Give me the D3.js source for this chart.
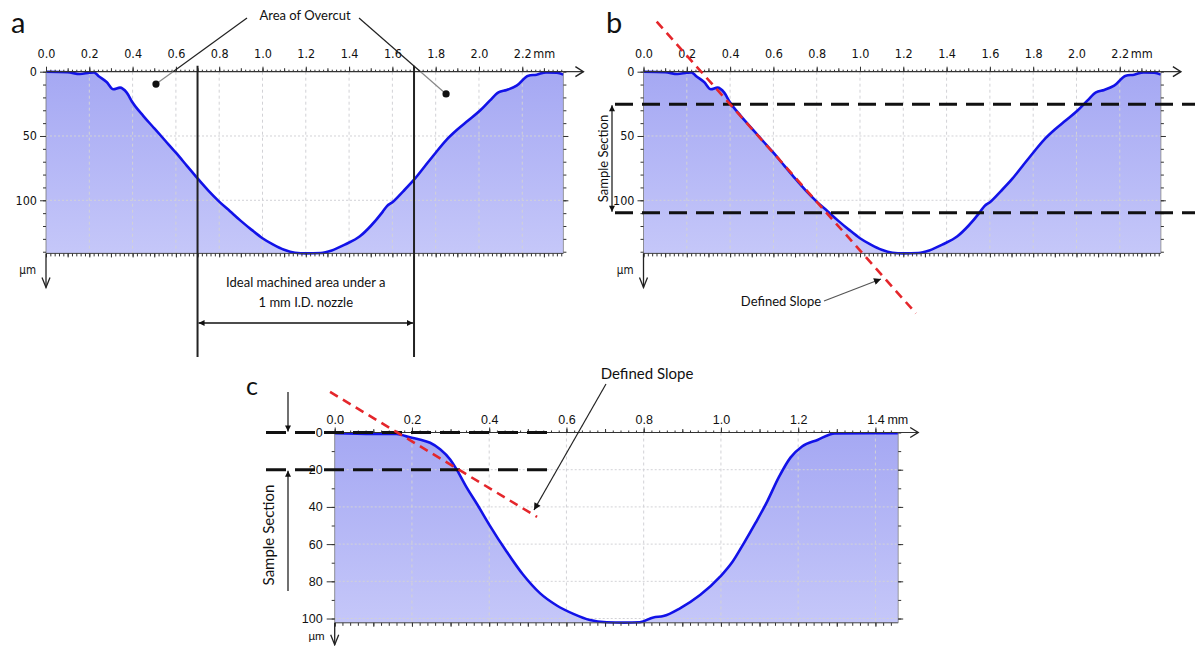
<!DOCTYPE html>
<html><head><meta charset="utf-8">
<script src="https://cdn.jsdelivr.net/npm/d3@7"></script>
<style>
html,body{margin:0;padding:0;background:#fff;}
svg{display:block;}
</style></head><body>
<svg id="chart" width="1195" height="646"></svg>
<script>
// ---------------- DATA ----------------
// Profile used in panels a and b (position in mm, depth in µm)
const profileAB_mm = [0, 0.10, 0.157, 0.20, 0.222, 0.242, 0.28, 0.311, 0.342, 0.373, 0.40, 0.45, 0.50, 0.55, 0.60, 0.65, 0.70, 0.75, 0.80, 0.85, 0.90, 0.95, 1.00, 1.05, 1.10, 1.15, 1.20, 1.27, 1.32, 1.38, 1.45, 1.50, 1.555, 1.575, 1.60, 1.65, 1.705, 1.75, 1.80, 1.85, 1.90, 1.95, 2.005, 2.05, 2.09, 2.128, 2.174, 2.228, 2.266, 2.31, 2.36, 2.39];
const profileAB_um = [0, 0.4, 1.8, 0.8, 0.5, 3.3, 8, 13.7, 12.4, 16.3, 24, 34.5, 44, 53.5, 63, 73, 83, 92.5, 101, 108.5, 116, 123, 129.5, 134.5, 138.5, 140.8, 141.3, 141, 139, 134.5, 128, 120, 109, 104.5, 101.5, 93, 83, 73.5, 63, 53, 45, 38, 30.2, 22.5, 16, 14.2, 10.9, 3.1, 2.3, 0.5, 0.8, 2.3];
// Profile used in panel c
const profileC_mm = [0, 0.10, 0.16, 0.195, 0.225, 0.247, 0.273, 0.299, 0.316, 0.34, 0.37, 0.40, 0.445, 0.488, 0.532, 0.575, 0.618, 0.661, 0.704, 0.75, 0.79, 0.825, 0.851, 0.894, 0.946, 0.998, 1.03, 1.058, 1.09, 1.12, 1.15, 1.18, 1.21, 1.25, 1.295, 1.459];
const profileC_um = [0.4, 0.8, 0.8, 2.6, 4, 5.5, 9, 14.5, 20, 29, 39, 49.5, 64, 76.5, 86.5, 93, 97.5, 100.8, 102, 102.2, 102, 99.4, 98.7, 94.5, 87.4, 77.5, 69.5, 60, 48.5, 37, 24, 13.5, 7.5, 4, 0.5, 0.4];

// Tick labels
const xTicksAB = [0, 0.2, 0.4, 0.6, 0.8, 1.0, 1.2, 1.4, 1.6, 1.8, 2.0, 2.2];
const xTickLabelsAB = ["0.0","0.2","0.4","0.6","0.8","1.0","1.2","1.4","1.6","1.8","2.0","2.2"];
const yTicksAB = [0, 50, 100];
const yTickLabelsAB = ["0","50","100"];
const xTicksC = [0, 0.2, 0.4, 0.6, 0.8, 1.0, 1.2, 1.4];
const xTickLabelsC = ["0.0","0.2","0.4","0.6","0.8","1.0","1.2","1.4"];
const yTicksC = [0, 20, 40, 60, 80, 100];
const yTickLabelsC = ["0","20","40","60","80","100"];
const xUnit = "mm", yUnit = "µm";

// Annotation values (data units)
const idealEdgesMM = [0.70, 1.70];                  // panel a vertical lines
const overcutPointsA = [[0.508, 9.6], [1.848, 17.3]]; // panel a dots
const sampleSectionB = [25.4, 109.6];               // panel b dashed depths
const slopeB = [[0.061, -38.9], [1.258, 187.9]];    // panel b defined slope
const sampleSectionC = [0, 20];                     // panel c dashed depths
const slopeC = [[-0.012, -21.8], [0.524, 45.4]];    // panel c defined slope

// ---------------- DRAWING ----------------
const svg = d3.select("#chart");
const defs = svg.append("defs");
function grad(id, y0, y1){
  const g = defs.append("linearGradient").attr("id", id).attr("gradientUnits","userSpaceOnUse")
    .attr("x1",0).attr("x2",0).attr("y1",y0).attr("y2",y1);
  g.append("stop").attr("offset",0).attr("stop-color","#a5a8f3");
  g.append("stop").attr("offset",1).attr("stop-color","#c5c7f9");
}
function marker(id, color, w, h){
  defs.append("marker").attr("id",id).attr("viewBox","0 0 10 10").attr("refX",10).attr("refY",5)
    .attr("markerUnits","userSpaceOnUse").attr("markerWidth",w).attr("markerHeight",h)
    .attr("orient","auto-start-reverse")
    .append("path").attr("d","M0,0 L10,5 L0,10 z").attr("fill",color);
}
marker("ah", "#111", 9, 7);
marker("ahs", "#111", 7, 6);

const narrowFont = '"Liberation Sans Narrow","DejaVu Sans Condensed","Arial Narrow",sans-serif';
const plainFont = '"Liberation Sans",Arial,sans-serif';
const annFont = 'Lato,"Open Sans",sans-serif';

function drawPanel(p){
  const g = svg.append("g");
  const x = p.x, y = p.y;
  const [xl, xr] = x.range(), [yt, yb] = y.range();
  const pts = p.mm.map((m,i)=>[m, p.um[i]]);
  grad(p.id, yt, yb);
  g.append("path").datum(pts)
    .attr("d", d3.area().x(d=>x(d[0])).y0(yb).y1(d=>y(d[1])).curve(d3.curveMonotoneX))
    .attr("fill", `url(#${p.id})`);
  // grid
  g.append("g").selectAll("line").data(p.xTicks.filter(d=>d>0)).join("line")
    .attr("x1",d=>x(d)).attr("x2",d=>x(d)).attr("y1",yt).attr("y2",yb)
    .attr("stroke","#d2d2d6").attr("stroke-dasharray","3,3").attr("stroke-width",1);
  g.append("g").selectAll("line").data(p.yTicks.filter(d=>d>0)).join("line")
    .attr("x1",xl).attr("x2",xr).attr("y1",d=>y(d)).attr("y2",d=>y(d))
    .attr("stroke","#d2d2d6").attr("stroke-dasharray","2,2").attr("stroke-width",1);
  // profile line
  g.append("path").datum(pts)
    .attr("d", d3.line().x(d=>x(d[0])).y(d=>y(d[1])).curve(d3.curveMonotoneX))
    .attr("fill","none").attr("stroke","#1212e8").attr("stroke-width",2.6).attr("stroke-linejoin","round");

  const axStyle = sel => { sel.select(".domain").remove(); sel.selectAll(".tick line").attr("stroke","#333"); };
  const xmax = x.domain()[1], ymax = y.domain()[1];
  const minorX = d3.range(0, xmax + 1e-9, 0.02);
  const medX = d3.range(0, xmax + 1e-9, 0.1);
  const minorY = d3.range(0, ymax + 1e-9, p.minorY);

  // top axis
  g.append("line").attr("x1",xl).attr("x2",xr+20).attr("y1",yt).attr("y2",yt).attr("stroke","#333").attr("stroke-width",1.2);
  g.append("path").attr("d",`M${xr+12},${yt-5}L${xr+20},${yt}L${xr+12},${yt+5}`).attr("fill","none").attr("stroke","#222").attr("stroke-width",1.4);
  g.append("g").attr("transform",`translate(0,${yt})`).call(d3.axisTop(x).tickValues(minorX).tickSize(2).tickFormat("")).call(axStyle);
  g.append("g").attr("transform",`translate(0,${yt})`).call(d3.axisTop(x).tickValues(medX).tickSize(3.5).tickFormat("")).call(axStyle);
  const tAx = g.append("g").attr("transform",`translate(0,${yt})`)
    .call(d3.axisTop(x).tickValues(p.xTicks).tickFormat((d,i)=>p.xLabels[i]).tickSize(5).tickPadding(p.padTop)).call(axStyle);
  tAx.selectAll("text").attr("font-family",p.font).attr("font-size",p.fontSize).attr("fill","#111");
  g.append("text").attr("x", x(p.xTicks[p.xTicks.length-1]) + p.unitOff).attr("y", yt - 5 - p.padTop)
    .attr("font-family",p.font).attr("font-size",p.fontSize).attr("fill","#111").text(xUnit);

  // bottom axis
  g.append("line").attr("x1",xl).attr("x2",xr).attr("y1",yb).attr("y2",yb).attr("stroke","#444").attr("stroke-width",1);
  g.append("g").attr("transform",`translate(0,${yb})`).call(d3.axisBottom(x).tickValues(minorX).tickSize(3).tickFormat("")).call(axStyle);
  g.append("g").attr("transform",`translate(0,${yb})`).call(d3.axisBottom(x).tickValues(medX).tickSize(4).tickFormat("")).call(axStyle);

  // left axis
  g.append("line").attr("x1",xl).attr("x2",xl).attr("y1",yt).attr("y2",yb).attr("stroke","#777").attr("stroke-width",0.8);
  g.append("g").attr("transform",`translate(${xl},0)`).call(d3.axisLeft(y).tickValues(minorY).tickSize(3).tickFormat("")).call(axStyle);
  const lAx = g.append("g").attr("transform",`translate(${xl},0)`)
    .call(d3.axisLeft(y).tickValues(p.yTicks).tickFormat((d,i)=>p.yLabels[i]).tickSize(p.tickL).tickPadding(p.padLeft)).call(axStyle);
  lAx.selectAll("text").attr("font-family",p.font).attr("font-size",p.fontSize).attr("fill","#111");

  // right axis
  g.append("line").attr("x1",xr).attr("x2",xr).attr("y1",yt).attr("y2",yb).attr("stroke","#888").attr("stroke-width",0.8);
  g.append("g").attr("transform",`translate(${xr},0)`).call(d3.axisRight(y).tickValues(minorY).tickSize(3).tickFormat("")).call(axStyle);
  g.append("g").attr("transform",`translate(${xr},0)`).call(d3.axisRight(y).tickValues(p.yTicks.filter(d=>d>0)).tickSize(5).tickFormat("")).call(axStyle);

  // y unit arrow
  const ya = yb + p.yArrow;
  g.append("line").attr("x1",xl).attr("x2",xl).attr("y1",yb).attr("y2",ya).attr("stroke","#222").attr("stroke-width",1.3);
  g.append("path").attr("d",`M${xl-4},${ya-10}L${xl},${ya}L${xl+4},${ya-10}`).attr("fill","none").attr("stroke","#222").attr("stroke-width",1.3);
  g.append("text").attr("x", xl - 10).attr("y", p.unitY).attr("text-anchor","end")
    .attr("font-family",p.font).attr("font-size",p.fontSize-1).attr("fill","#111").text(yUnit);
  return g;
}

// scales
const xA = d3.scaleLinear().domain([0, 2.39]).range([46, 563.4]);
const yA = d3.scaleLinear().domain([0, 141.3]).range([71.7, 253.4]);
const xB = d3.scaleLinear().domain([0, 2.39]).range([643.5, 1160.9]);
const yB = yA.copy();
const xC = d3.scaleLinear().domain([0, 1.459]).range([334.7, 898.2]);
const yC = d3.scaleLinear().domain([0, 102.3]).range([432.5, 622.8]);

const abCfg = {mm: profileAB_mm, um: profileAB_um, xTicks: xTicksAB, xLabels: xTickLabelsAB,
  yTicks: yTicksAB, yLabels: yTickLabelsAB, minorY: 10, font: narrowFont, fontSize: 12.5,
  padTop: 9, padLeft: 3, tickL: 6, unitOff: 11, yArrow: 34, unitY: 274};
drawPanel({...abCfg, id:"gA", x:xA, y:yA});
drawPanel({...abCfg, id:"gB", x:xB, y:yB});
drawPanel({mm: profileC_mm, um: profileC_um, xTicks: xTicksC, xLabels: xTickLabelsC,
  yTicks: yTicksC, yLabels: yTickLabelsC, minorY: 10, font: plainFont, fontSize: 12.5,
  padTop: 4, padLeft: 4, tickL: 8, unitOff: 12, yArrow: 22, unitY: 640, id:"gC", x:xC, y:yC});

// ---------- panel labels ----------
const lab = (t,x,y,s)=>svg.append("text").attr("x",x).attr("y",y).attr("font-family",annFont).attr("font-size",s).attr("fill","#111").text(t);
lab("a", 11, 33, 29);
lab("b", 606, 33, 29);
lab("c", 246, 395, 25);

// ---------- panel a annotations ----------
const A = svg.append("g");
A.append("text").attr("x",305).attr("y",20).attr("text-anchor","middle").attr("font-family",annFont).attr("font-size",13).attr("fill","#111").text("Area of Overcut");
const starts = [[247,18],[359,18]];
overcutPointsA.forEach((pt,i)=>{
  const px = xA(pt[0]), py = yA(pt[1]);
  const [sx, sy] = starts[i];
  const t = (yA.range()[0] - sy) / (py - sy);
  const mx = sx + (px - sx) * t, my = yA.range()[0];
  A.append("line").attr("x1",sx).attr("y1",sy).attr("x2",mx).attr("y2",my).attr("stroke","#222").attr("stroke-width",1.2);
  A.append("line").attr("x1",mx).attr("y1",my).attr("x2",px).attr("y2",py).attr("stroke","#888").attr("stroke-width",1.2);
  A.append("circle").attr("cx",px).attr("cy",py).attr("r",3.6).attr("fill","#111");
});
idealEdgesMM.forEach(m=>{
  A.append("line").attr("x1",xA(m)).attr("x2",xA(m)).attr("y1",yA.range()[0]-6).attr("y2",357).attr("stroke","#222").attr("stroke-width",2);
});
const midA = (xA(idealEdgesMM[0]) + xA(idealEdgesMM[1])) / 2;
A.append("text").attr("x",midA).attr("y",287).attr("text-anchor","middle").attr("font-family",annFont).attr("font-size",13).attr("fill","#111").text("Ideal machined area under a");
A.append("text").attr("x",midA).attr("y",307).attr("text-anchor","middle").attr("font-family",annFont).attr("font-size",13).attr("fill","#111").text("1 mm I.D. nozzle");
A.append("line").attr("x1",xA(idealEdgesMM[0])+1).attr("x2",xA(idealEdgesMM[1])-1).attr("y1",323).attr("y2",323)
  .attr("stroke","#111").attr("stroke-width",1.6).attr("marker-start","url(#ahs)").attr("marker-end","url(#ahs)");

// ---------- panel b annotations ----------
const B = svg.append("g");
sampleSectionB.forEach(d=>{
  B.append("line").attr("x1",615).attr("x2",1195).attr("y1",yB(d)).attr("y2",yB(d))
    .attr("stroke","#111").attr("stroke-width",3).attr("stroke-dasharray","18,9");
});
B.append("line").attr("x1",612).attr("x2",612).attr("y1",yB(sampleSectionB[0])+1).attr("y2",yB(sampleSectionB[1])-1)
  .attr("stroke","#111").attr("stroke-width",1.2).attr("marker-start","url(#ahs)").attr("marker-end","url(#ahs)");
B.append("text").attr("transform",`translate(608,${(yB(sampleSectionB[0])+yB(sampleSectionB[1]))/2}) rotate(-90)`)
  .attr("text-anchor","middle").attr("font-family",annFont).attr("font-size",13).attr("fill","#111").text("Sample Section");
B.append("path").datum(slopeB).attr("d", d3.line().x(d=>xB(d[0])).y(d=>yB(d[1])))
  .attr("stroke","#e4262b").attr("stroke-width",2.6).attr("stroke-dasharray","9,6").attr("fill","none");
B.append("text").attr("x",781).attr("y",306).attr("text-anchor","middle").attr("font-family",annFont).attr("font-size",13).attr("fill","#111").text("Defined Slope");
B.append("line").attr("x1",824).attr("y1",301).attr("x2",881).attr("y2",279).attr("stroke","#555").attr("stroke-width",1.2).attr("marker-end","url(#ah)");

// ---------- panel c annotations ----------
const C = svg.append("g");
sampleSectionC.forEach(d=>{
  C.append("line").attr("x1",266).attr("x2",547).attr("y1",yC(d)).attr("y2",yC(d))
    .attr("stroke","#111").attr("stroke-width",3).attr("stroke-dasharray","20,9");
});
C.append("line").attr("x1",288).attr("x2",288).attr("y1",392).attr("y2",yC(sampleSectionC[0])-1)
  .attr("stroke","#111").attr("stroke-width",1.2).attr("marker-end","url(#ahs)");
C.append("line").attr("x1",288).attr("x2",288).attr("y1",591).attr("y2",yC(sampleSectionC[1])+1)
  .attr("stroke","#111").attr("stroke-width",1.2).attr("marker-end","url(#ahs)");
C.append("text").attr("transform",`translate(274,535) rotate(-90)`)
  .attr("text-anchor","middle").attr("font-family",annFont).attr("font-size",15).attr("fill","#111").text("Sample Section");
C.append("path").datum(slopeC).attr("d", d3.line().x(d=>xC(d[0])).y(d=>yC(d[1])))
  .attr("stroke","#e4262b").attr("stroke-width",2.6).attr("stroke-dasharray","9,6").attr("fill","none");
C.append("text").attr("x",647).attr("y",379).attr("text-anchor","middle").attr("font-family",annFont).attr("font-size",15).attr("fill","#111").text("Defined Slope");
C.append("line").attr("x1",606).attr("y1",384).attr("x2",534).attr("y2",510).attr("stroke","#222").attr("stroke-width",1.2).attr("marker-end","url(#ah)");
</script>
</body></html>
